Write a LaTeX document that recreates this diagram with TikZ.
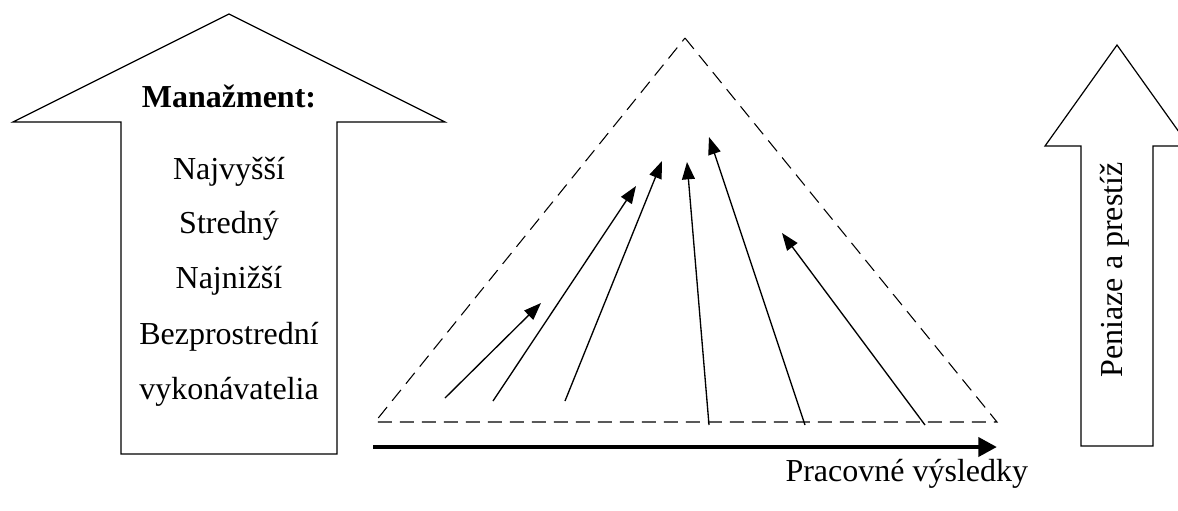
\documentclass[tikz,border=0pt]{standalone}
\usepackage{fontspec}
\setmainfont{Liberation Serif}
\usetikzlibrary{arrows.meta}

\begin{document}
\begin{tikzpicture}[
    x=0.375pt, y=-0.375pt,
    label text/.style={inner sep=0pt, anchor=base, font=\fontsize{12}{14}\selectfont},
    block/.style={draw, line width=0.45pt, line join=miter},
    frame/.style={draw, dash pattern=on 5.25pt off 3pt, line width=0.4pt},
    flow/.style={-{Triangle[length=6.5pt, width=4.8pt]}, line width=0.5pt},
    result/.style={-{Triangle[length=7pt, width=7pt]}, line width=1.8pt}
]
\clip (0,0) rectangle (1178,510);

\draw[block] (229,14) -- (445,122) -- (337,122) -- (337,454) -- (121,454) -- (121,122) -- (13,122) -- cycle;
\node[label text, font=\fontsize{12}{14}\selectfont\bfseries] (mgmt) at (229,107) {Manažment:};
\node[label text] (top) at (229,179) {Najvyšší};
\node[label text] (middle) at (229,233) {Stredný};
\node[label text] (low) at (229,288) {Najnižší};
\node[label text] (direct) at (229,344) {Bezprostrední};
\node[label text] (workers) at (229,399) {vykonávatelia};

\coordinate (apex) at (685,38);
\coordinate (baseL) at (375,422);
\coordinate (baseR) at (997,422);
\draw[frame] (apex) -- (baseR) -- (baseL) -- cycle;

\coordinate (s1) at (445,398); \coordinate (e1) at (541,303);
\coordinate (s2) at (493,401); \coordinate (e2) at (636,186);
\coordinate (s3) at (565,401); \coordinate (e3) at (662,161);
\coordinate (s4) at (709,425); \coordinate (e4) at (687,162);
\coordinate (s5) at (805,425); \coordinate (e5) at (709,137);
\coordinate (s6) at (925,425); \coordinate (e6) at (782,233);
\draw[flow] (s1) -- (e1);
\draw[flow] (s2) -- (e2);
\draw[flow] (s3) -- (e3);
\draw[flow] (s4) -- (e4);
\draw[flow] (s5) -- (e5);
\draw[flow] (s6) -- (e6);

\coordinate (resstart) at (373,447);
\coordinate (resend) at (997,447);
\draw[result] (resstart) -- (resend);
\node[label text, anchor=base west] (results) at (785,481) {Pracovné výsledky};

\draw[block] (1117,45) -- (1189,146) -- (1153,146) -- (1153,446) -- (1081,446) -- (1081,146) -- (1045,146) -- cycle;
\node[label text, anchor=base west, rotate=90] (money) at (1122,378) {Peniaze a prestíž};
\end{tikzpicture}
\end{document}
